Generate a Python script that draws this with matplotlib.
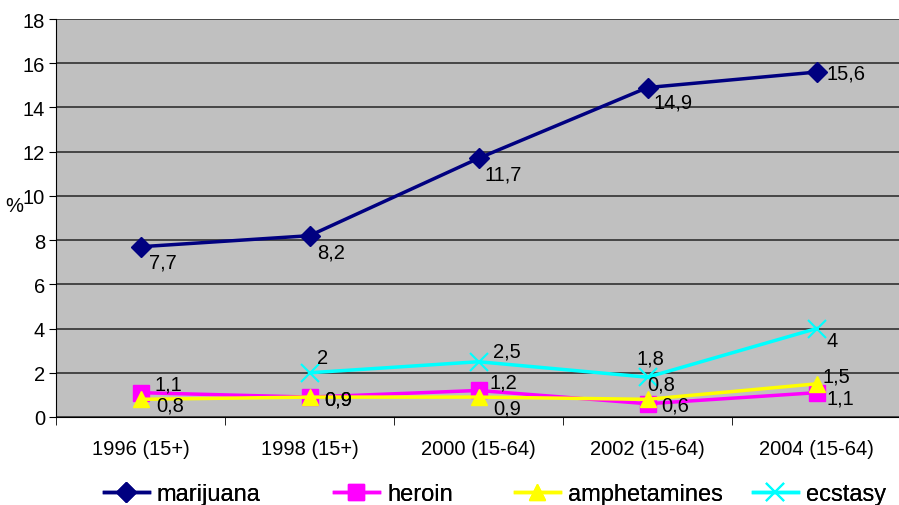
import numpy as np
import matplotlib
matplotlib.use("Agg")
import matplotlib.pyplot as plt

plt.rcParams["font.family"] = ["Liberation Sans", "DejaVu Sans"]

# data
years = ["1996 (15+)", "1998 (15+)", "2000 (15-64)", "2002 (15-64)", "2004 (15-64)"]
marijuana = [7.7, 8.2, 11.7, 14.9, 15.6]
heroin = [1.1, 0.9, 1.2, 0.6, 1.1]
amphetamines = [0.8, 0.9, 0.9, 0.8, 1.5]
ecstasy = [np.nan, 2.0, 2.5, 1.8, 4.0]

# label offsets in pixels (dx, dy) for each point
lab_off = {
    "marijuana": [(9, -15), (8, -16), (6, -16), (6, -14), (10, -1)],
    "heroin": [(14, 9), (15, -2), (11, 8), (14, -1), (10, -5)],
    "amphetamines": [(16, -6), (15, -2), (15, -11), (0, 15), (6, 8)],
    "ecstasy": [None, (8, 15), (14, 11), (-11, 19), (10, -12)],
}

series = [
    ("marijuana", marijuana, "#000080", "D", 10),
    ("heroin", heroin, "#FF00FF", "s", 11),
    ("amphetamines", amphetamines, "#FFFF00", "^", 12),
    ("ecstasy", ecstasy, "#00FFFF", "x", 13),
]
# left edge (px) of each legend entry, as in the reference
legend_x = [104, 334, 515, 753]

fig = plt.figure(figsize=(8.99, 5.06), dpi=100)
ax = fig.add_axes([56 / 899, 88 / 506, 845 / 899, 398 / 506])
ax.set_facecolor("#C0C0C0")

x = np.arange(len(years))
lines = []
for name, vals, col, mk, ms in series:
    ln, = ax.plot(x, vals, color=col, lw=2.5, marker=mk, ms=ms, mfc=col, mec=col,
                  mew=1.5 if mk == "x" else 1, label=name, zorder=3)
    lines.append(ln)
    for i, v in enumerate(vals):
        if np.isnan(v):
            continue
        dx, dy = lab_off[name][i]
        txt = f"{int(v)}" if v == int(v) else f"{v:.1f}".replace(".", ",")
        ax.annotate(txt, (i, v), xytext=(dx, dy), textcoords="offset pixels",
                    ha="left", va="center", fontsize=14.5, zorder=4)

ax.set_xlim(-0.5, 4.5)
ax.set_ylim(0, 18)
ax.set_yticks(np.arange(0, 19, 2))
ax.grid(axis="y", color="#303030", lw=1.2)
ax.set_axisbelow(True)

ax.set_xticks(x)
ax.set_xticklabels(years, fontsize=14.5)
ax.set_xticks(np.arange(-0.5, 5, 1), minor=True)
ax.tick_params(axis="x", which="major", length=0, pad=16)
ax.tick_params(axis="x", which="minor", length=6, color="black")
ax.tick_params(axis="y", labelsize=14.5, length=5, color="black", pad=3)

for s in ["top", "right"]:
    ax.spines[s].set_visible(False)
ax.spines["left"].set_color("black")
ax.spines["bottom"].set_color("black")

fig.text(14 / 899, 1 - 207 / 506, "%", ha="center", va="center", fontsize=14.5)

# one legend per entry so the uneven spacing of the original is kept
for ln, lx in zip(lines, legend_x):
    leg = fig.legend([ln], [ln.get_label()], loc="center left",
                     bbox_to_anchor=(lx / 899, 1 - 495 / 506),
                     frameon=False, fontsize=17, handlelength=1.9,
                     handletextpad=0.34, borderpad=0, borderaxespad=0)
    fig.add_artist(leg)

fig.savefig("out.png", dpi=100)
